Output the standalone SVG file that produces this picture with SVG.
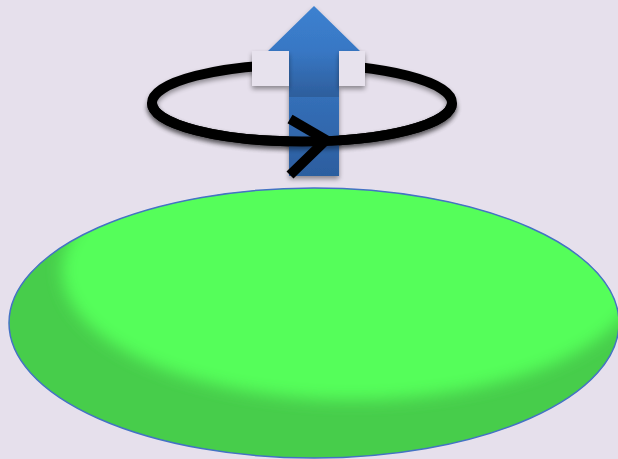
<svg xmlns="http://www.w3.org/2000/svg" width="618" height="459" viewBox="0 0 618 459">
  <defs>
    <linearGradient id="headGrad" x1="0" y1="6" x2="0" y2="97" gradientUnits="userSpaceOnUse">
      <stop offset="0" stop-color="#3C81D0"/>
      <stop offset="0.5" stop-color="#3877C4"/>
      <stop offset="1" stop-color="#2D5E9C"/>
    </linearGradient>
    <linearGradient id="shaftGrad" x1="0" y1="97" x2="0" y2="176" gradientUnits="userSpaceOnUse">
      <stop offset="0" stop-color="#346FB8"/>
      <stop offset="1" stop-color="#2C5E9F"/>
    </linearGradient>
    <clipPath id="diskClip">
      <ellipse cx="314" cy="323" rx="305" ry="135"/>
    </clipPath>
    <filter id="blurHi" x="-20%" y="-20%" width="140%" height="140%">
      <feGaussianBlur stdDeviation="8"/>
    </filter>
    <filter id="shadow" x="-10%" y="-20%" width="120%" height="150%">
      <feGaussianBlur in="SourceAlpha" stdDeviation="2.5"/>
      <feOffset dx="0" dy="3" result="b"/>
      <feComponentTransfer><feFuncA type="linear" slope="0.4"/></feComponentTransfer>
      <feMerge><feMergeNode/><feMergeNode in="SourceGraphic"/></feMerge>
    </filter>
    <style>
      .ring { fill: none; stroke: #000; stroke-width: 10; }
      .patch { fill: #E7E2ED; }
    </style>
  </defs>
  <rect width="618" height="459" fill="#E6E0EC"/>

  <g id="disk">
    <ellipse cx="314" cy="323" rx="305" ry="135" fill="#47CD4B"/>
    <g clip-path="url(#diskClip)">
      <ellipse cx="352" cy="270" rx="290" ry="130" fill="#55FE5A" filter="url(#blurHi)"/>
    </g>
    <ellipse cx="314" cy="323" rx="305" ry="135" fill="none" stroke="#4472C4" stroke-width="1.5"/>
  </g>

  <g id="rotation-ring-back" filter="url(#shadow)">
    <ellipse class="ring" cx="302" cy="103" rx="150" ry="38.5"/>
  </g>

  <g id="axis-arrow" filter="url(#shadow)">
    <path d="M314,6 L360,51 L339,51 L339,97 L289,97 L289,51 L268,51 Z" fill="url(#headGrad)"/>
    <rect x="289" y="97" width="50" height="79" fill="url(#shaftGrad)"/>
  </g>

  <g id="rotation-ring-front" filter="url(#shadow)">
    <path class="ring" d="M152,103 A150,38.5 0 0 0 452,103"/>
  </g>

  <g id="patches" filter="url(#shadow)">
    <rect class="patch" x="252" y="51" width="37" height="35"/>
    <rect class="patch" x="339" y="51" width="26" height="35"/>
  </g>

  <g id="connectors">
    <path d="M290,119 L326,140 L290,175" fill="none" stroke="#000" stroke-width="10"/>
  </g>
</svg>
